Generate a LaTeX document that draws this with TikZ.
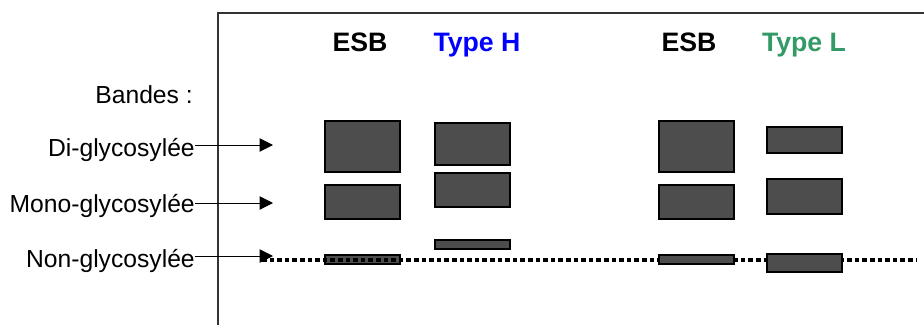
\documentclass[tikz,border=0pt]{standalone}
\usepackage{fontspec}
\setmainfont{Liberation Sans}
\usetikzlibrary{arrows.meta}
\definecolor{bandgray}{HTML}{4D4D4D}
\definecolor{typeH}{HTML}{0000FF}
\definecolor{typeL}{HTML}{339966}
\begin{document}
\begin{tikzpicture}[x=0.75pt,y=-0.75pt,
  lab/.style={anchor=base east,inner sep=0pt,font=\fontsize{18.5}{22}\selectfont},
  lane/.style={anchor=base,inner sep=0pt,font=\fontsize{20}{24}\selectfont\bfseries},
  band/.style={draw=black,fill=bandgray,line width=0.9pt,inner sep=0pt,outer sep=0pt,minimum width=56.25pt},
  pointer/.style={line width=0.75pt,-{Triangle[length=10pt,width=10pt]}},
  front/.style={line width=3.4pt,dash pattern=on 3.4pt off 2.3pt}]
\useasboundingbox (0,0) rectangle (924,325);

% gel frame
\draw[line width=0.8pt,black!80] (218,325) -- (218,13) -- (924,13);

% lane headers
\node[lane] (h1) at (360,51) {ESB};
\node[lane,text=typeH] (h2) at (477,51) {Type H};
\node[lane] (h3) at (689,51) {ESB};
\node[lane,text=typeL] (h4) at (804,51) {Type L};

% band legend
\node[lab] (bandes) at (193,103) {Bandes :};
\node[lab] (di) at (195,156) {Di-glycosylée};
\node[lab] (mono) at (195,212) {Mono-glycosylée};
\node[lab] (non) at (195,267) {Non-glycosylée};
\coordinate (diT) at (273,145);
\coordinate (monoT) at (273,203);
\coordinate (nonT) at (273,256);
\draw[pointer] (di.east |- diT) -- (diT);
\draw[pointer] (mono.east |- monoT) -- (monoT);
\draw[pointer] (non.east |- nonT) -- (nonT);

% lane 1 : ESB
\node[band,minimum height=38.25pt] (e1di) at (362.5,146.5) {};
\node[band,minimum height=25.5pt] (e1mono) at (362.5,202) {};
\node[band,minimum height=6.75pt] (e1non) at (362.5,259.5) {};

% migration front
\coordinate (fs) at (262,260);
\coordinate (fe) at (917,260);
\draw[front] (fs) -- (fe);

% lane 2 : Type H
\node[band,minimum height=31.5pt] (hdi) at (472.5,144) {};
\node[band,minimum height=25.5pt] (hmono) at (472.5,190) {};
\node[band,minimum height=6.75pt] (hnon) at (472.5,244.5) {};

% lane 3 : ESB
\node[band,minimum height=38.25pt] (e2di) at (696.5,146.5) {};
\node[band,minimum height=25.5pt] (e2mono) at (696.5,202) {};
\node[band,minimum height=6.75pt] (e2non) at (696.5,259.5) {};

% lane 4 : Type L
\node[band,minimum height=19.5pt] (ldi) at (804.5,140) {};
\node[band,minimum height=26.25pt] (lmono) at (804.5,196.5) {};
\node[band,minimum height=13.5pt] (lnon) at (804.5,263) {};
\end{tikzpicture}
\end{document}
